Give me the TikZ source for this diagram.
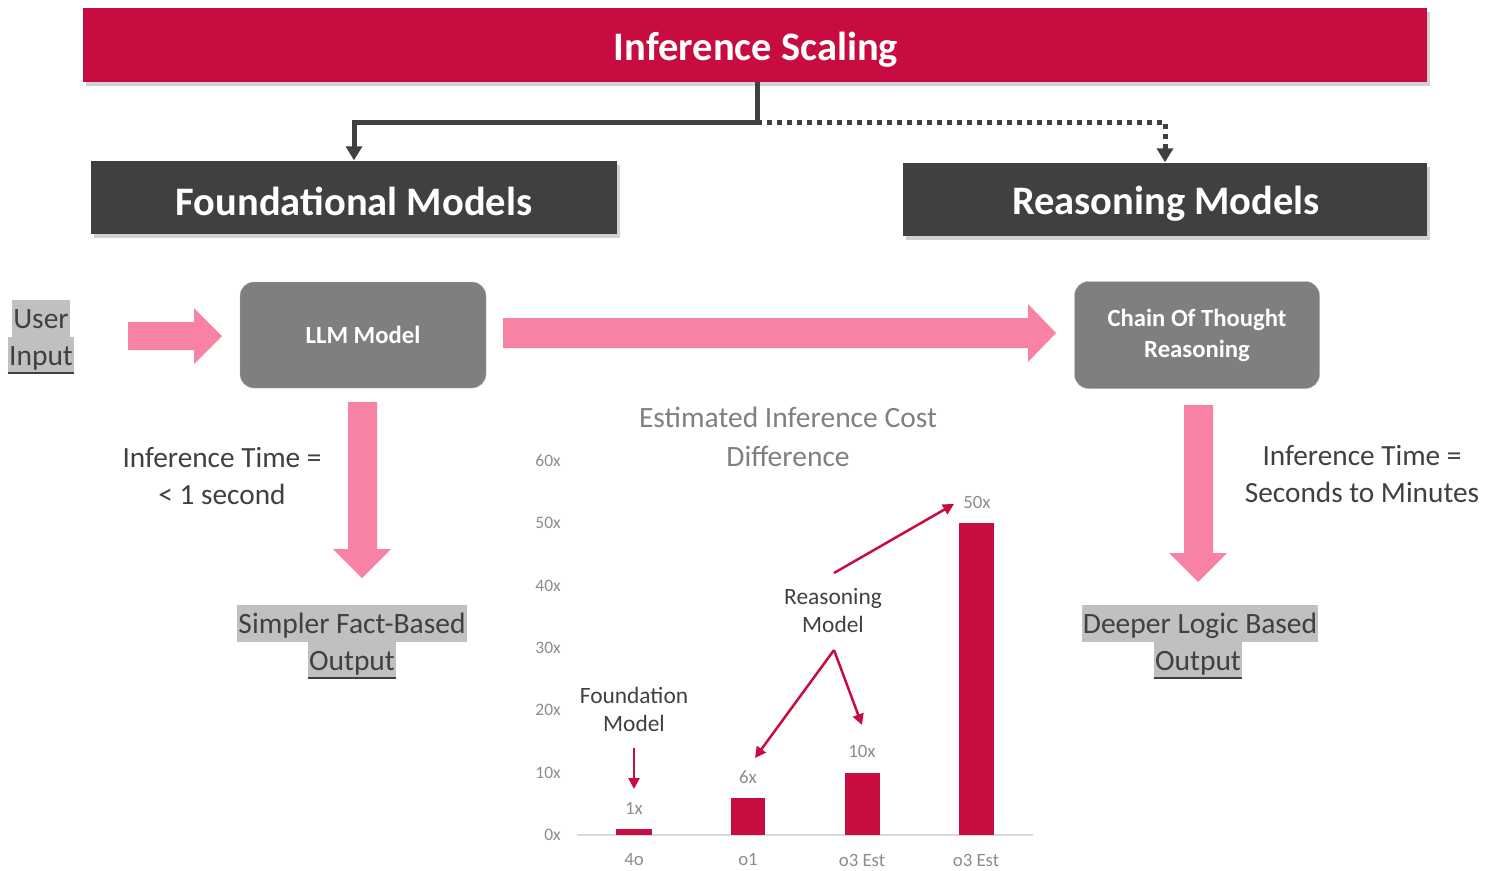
\documentclass[tikz,border=0pt]{standalone}
\usepackage{fontspec}
\setmainfont{Carlito}
\usetikzlibrary{arrows.meta,shadows}
\definecolor{crimson}{HTML}{C80C3F}
\definecolor{darkbox}{HTML}{404040}
\definecolor{midbox}{HTML}{7F7F7F}
\definecolor{pinkarrow}{HTML}{F882A4}
\definecolor{txt}{HTML}{404040}
\definecolor{hl}{HTML}{C0C0C0}
\definecolor{axisc}{HTML}{8C8C8C}
\definecolor{ctitlec}{HTML}{808080}
\definecolor{axline}{HTML}{D9D9D9}
\begin{document}
\begin{tikzpicture}[x=1pt,y=-1pt,
  shad/.style={drop shadow={shadow xshift=3pt,shadow yshift=-4pt,opacity=0.18,fill=black}},
  titlebox/.style={fill=crimson,shad,inner sep=0},
  headbox/.style={fill=darkbox,shad,inner sep=0},
  headtext/.style={text=white,font=\bfseries\fontsize{40.5}{44}\selectfont,inner sep=0},
  procbox/.style={fill=midbox,draw=gray!60,rounded corners=14pt,text=white,font=\bfseries\fontsize{24.7}{31}\selectfont,align=center,inner sep=0},
  conn/.style={draw=darkbox,line width=5pt,-{Triangle[length=14pt,width=16pt]}},
  body/.style={text=txt,font=\fontsize{29.3}{37}\selectfont,align=center},
  hlbox/.style={fill=hl,text=txt,font=\fontsize{29.5}{37}\selectfont,inner xsep=1pt,inner ysep=0pt,text height=29pt,text depth=8pt},
  ytick/.style={text=axisc,font=\fontsize{17.5}{20}\selectfont,anchor=east,inner sep=0},
  vlab/.style={text=axisc,font=\fontsize{18.8}{20}\selectfont,inner sep=0},
  note/.style={text=txt,font=\fontsize{23.4}{28}\selectfont,align=center},
  bar/.style={fill=crimson,draw=none},
  redarr/.style={draw=crimson,line width=2.5pt,-{Triangle[length=11pt,width=11pt]}},
  pinkfill/.style={fill=pinkarrow,draw=none}
]
\useasboundingbox (0,0) rectangle (1495,870);

% title and headers
\node[titlebox,minimum width=1344pt,minimum height=74pt] (title) at (755,45) {};
\node[headtext] (titletext) at (756,50) {Inference Scaling};
\node[headbox,minimum width=526pt,minimum height=73pt] (fm) at (354,197) {};
\node[headtext] (fmtext) at (354,201) {Foundational Models};
\node[headbox,minimum width=524pt,minimum height=73pt] (rm) at (1165,199) {};
\node[headtext] (rmtext) at (1166,204) {Reasoning Models};

\coordinate (junc) at (757,122);
\draw[conn] (title.south -| junc) -- (junc) -| (fm.north);
\draw[conn,dash pattern=on 4.5pt off 5.5pt] (junc) -| (rm.north);

% user input
\node[hlbox] (user) at (41,318) {User};
\node[hlbox] (input) at (41,355) {Input};
\draw[txt,line width=1.8pt] ([yshift=1pt]input.south west) -- ([yshift=1pt]input.south east);

% process boxes
\node[procbox,minimum width=246pt,minimum height=106pt] (llm) at (363,335) {LLM Model};
\node[procbox,minimum width=245pt,minimum height=107pt] (cot) at (1197,335) {Chain Of Thought\\Reasoning};

% pink block arrows
\fill[pinkfill] (128,322) -- (194,322) -- (194,308) -- (222,336) -- (194,364) -- (194,350) -- (128,350) -- cycle;
\fill[pinkfill] (503,318) -- (1028,318) -- (1028,304) -- (1056,333) -- (1028,362) -- (1028,348) -- (503,348) -- cycle;
\fill[pinkfill] (348,402) -- (377,402) -- (377,549) -- (391,549) -- (362,578) -- (333,549) -- (348,549) -- cycle;
\fill[pinkfill] (1184,405) -- (1213,405) -- (1213,553) -- (1227,553) -- (1198,582) -- (1169,553) -- (1184,553) -- cycle;

% texts
\node[body] (tl) at (222,476) {Inference Time =\\< 1 second};
\node[body] (tr) at (1362,474) {Inference Time =\\Seconds to Minutes};

\node[hlbox] (sf) at (352,623) {Simpler Fact-Based};
\node[hlbox] (sfo) at (352,660) {Output};
\draw[txt,line width=1.8pt] ([yshift=1pt]sfo.south west) -- ([yshift=1pt]sfo.south east);
\node[hlbox] (dl) at (1200,623) {Deeper Logic Based};
\node[hlbox] (dlo) at (1198,660) {Output};
\draw[txt,line width=1.8pt] ([yshift=1pt]dlo.south west) -- ([yshift=1pt]dlo.south east);

% chart
\node[text=ctitlec,font=\fontsize{29.5}{39}\selectfont,align=center] (ctitle) at (788,437) {Estimated Inference Cost\\Difference};
\foreach \v/\lab in {0/0x,10/10x,20/20x,30/30x,40/40x,50/50x,60/60x}{
  \node[ytick] (yt\v) at (561,835-\v*6.24) {\lab};
}
\coordinate (axl) at (577,835);
\coordinate (axr) at (1033,835);
\draw[axline,line width=1.2pt] (axl) -- (axr);

\fill[bar] (616,829) rectangle (652,835);
\fill[bar] (731,798) rectangle (765,835);
\fill[bar] (845,773) rectangle (880,835);
\fill[bar] (959,523) rectangle (994,835);

\node[vlab] (v1) at (634,808) {1x};
\node[vlab] (v2) at (748,777) {6x};
\node[vlab] (v3) at (862,751) {10x};
\node[vlab] (v4) at (977,502) {50x};

\node[vlab] (c1) at (634,860) {4o};
\node[vlab] (c2) at (748,860) {o1};
\node[vlab] (c3) at (862,860) {o3 Est};
\node[vlab] (c4) at (976,860) {o3 Est};

\node[note] (fnote) at (634,709) {Foundation\\Model};
\node[note] (rnote) at (833,611) {Reasoning\\Model};
\coordinate (fa) at (634,748);
\coordinate (fb) at (634,789);
\draw[redarr] (fa) -- (fb);
\coordinate (rs) at (834,650);
\coordinate (ra) at (755,758);
\coordinate (rb) at (862,725);
\draw[redarr] (rs) -- (ra);
\draw[redarr] (rs) -- (rb);
\coordinate (ta) at (834,573);
\coordinate (tb) at (954,504);
\draw[redarr] (ta) -- (tb);
\end{tikzpicture}
\end{document}
